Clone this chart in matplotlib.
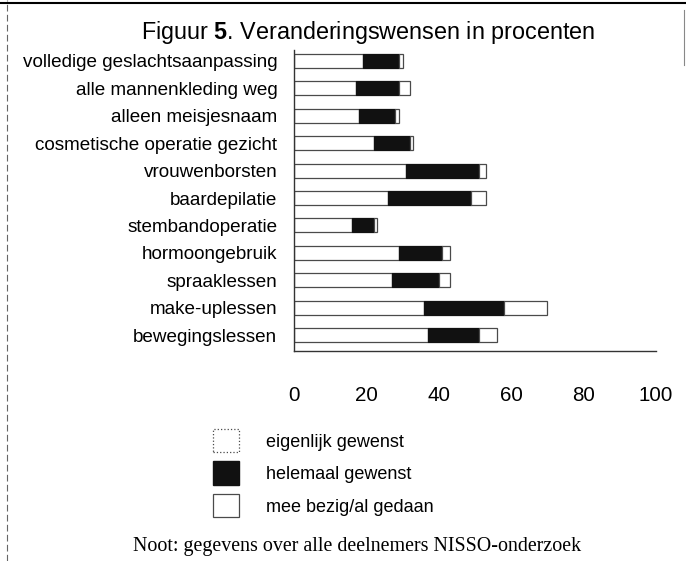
import matplotlib
matplotlib.use("Agg")
import matplotlib.pyplot
import numpy as np
from matplotlib.lines import Line2D
from matplotlib.patches import Patch

categories = [
    "volledige geslachtsaanpassing",
    "alle mannenkleding weg",
    "alleen meisjesnaam",
    "cosmetische operatie gezicht",
    "vrouwenborsten",
    "baardepilatie",
    "stembandoperatie",
    "hormoongebruik",
    "spraaklessen",
    "make-uplessen",
    "bewegingslessen",
]
eigenlijk_gewenst = [19, 17, 18, 22, 31, 26, 16, 29, 27, 36, 37]
helemaal_gewenst = [10, 12, 10, 10, 20, 23, 6, 12, 13, 22, 14]
mee_bezig = [1, 3, 1, 1, 2, 4, 1, 2, 3, 12, 5]
x_ticks = [0, 20, 40, 60, 80, 100]
legend_labels = ["eigenlijk gewenst", "helemaal gewenst", "mee bezig/al gedaan"]

matplotlib.pyplot.rcParams["font.family"] = ["Liberation Sans", "DejaVu Sans"]
matplotlib.pyplot.rcParams["mathtext.fontset"] = "custom"
matplotlib.pyplot.rcParams["mathtext.rm"] = "Liberation Sans"
matplotlib.pyplot.rcParams["mathtext.bf"] = "Liberation Sans:bold"

W, H = 686, 561
figure = matplotlib.pyplot.figure(figsize=(W / 100, H / 100), dpi=100)
axis = figure.add_axes([294 / W, 1 - 351 / H, 362 / W, 301 / H])

n = len(categories)
y = np.arange(n)[::-1]
first = np.array(eigenlijk_gewenst)
second = np.array(helemaal_gewenst)
third = np.array(mee_bezig)

bar_h = 0.51
edge = "#4a4a4a"
axis.barh(y, first, height=bar_h, color="white", edgecolor=edge, linewidth=0.9)
axis.barh(y, second, left=first, height=bar_h, color="#111111", edgecolor="#111111", linewidth=0.9)
axis.barh(y, third, left=first + second, height=bar_h, color="white", edgecolor=edge, linewidth=0.9)

axis.set_xlim(0, 100)
axis.set_ylim(-0.58, n - 1 + 0.4)
axis.set_yticks(y)
axis.set_yticklabels(categories, fontsize=13.6)
axis.set_xticks(x_ticks)
axis.set_xticklabels([str(t) for t in x_ticks], fontsize=14.8)
axis.tick_params(axis="y", length=0, pad=12)
axis.tick_params(axis="x", length=0, pad=25)
for side in ["top", "right"]:
    axis.spines[side].set_visible(False)
for side in ["left", "bottom"]:
    axis.spines[side].set_color("#333333")
    axis.spines[side].set_linewidth(1.0)

figure.text(368 / W, 1 - 33 / H, r"Figuur $\mathbf{5}$. Veranderingswensen in procenten",
            ha="center", va="center", fontsize=16.8)

handles = [
    Patch(facecolor="white", edgecolor=edge, linewidth=0.9, linestyle=":"),
    Patch(facecolor="#111111", edgecolor="#111111"),
    Patch(facecolor="white", edgecolor=edge, linewidth=0.9),
]
figure.legend(handles, legend_labels, loc="upper left", bbox_to_anchor=(213 / W, 1 - 429 / H),
              frameon=False, fontsize=13, borderpad=0, borderaxespad=0,
              handlelength=1.44, handleheight=1.62, labelspacing=0.5, handletextpad=1.5)

figure.text(357 / W, 1 - 546 / H, "Noot: gegevens over alle deelnemers NISSO-onderzoek",
            ha="center", va="center", fontsize=14.4, family=["Liberation Serif", "DejaVu Serif"])

# scanned page frame
figure.add_artist(Line2D([0, 1], [1 - 3 / H, 1 - 3 / H], color="black", linewidth=1.5))
figure.add_artist(Line2D([7 / W, 7 / W], [0, 1], color="#666666", linewidth=0.8, linestyle=(0, (6, 3))))
figure.add_artist(Line2D([684 / W, 684 / W], [1 - 10 / H, 1 - 65 / H], color="#888888", linewidth=0.8))

figure.savefig("out.png", dpi=100)
matplotlib.pyplot.close(figure)
